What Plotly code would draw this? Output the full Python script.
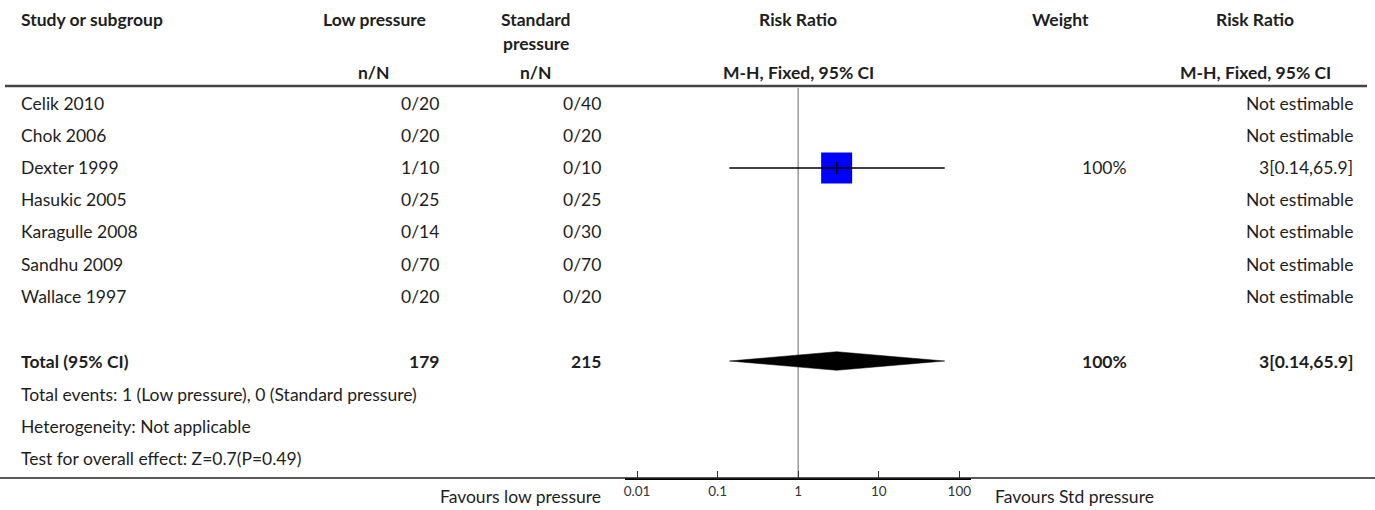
import plotly.graph_objects as go

W, H = 1375, 510
FONT = "Lato"

# ---------------- data ----------------
studies = ["Celik 2010", "Chok 2006", "Dexter 1999", "Hasukic 2005",
           "Karagulle 2008", "Sandhu 2009", "Wallace 1997"]
low_events = [0, 0, 1, 0, 0, 0, 0]
low_total = [20, 20, 10, 25, 14, 70, 20]
std_events = [0, 0, 0, 0, 0, 0, 0]
std_total = [40, 20, 10, 25, 30, 70, 20]
rr = [None, None, 3, None, None, None, None]
rr_lo = [None, None, 0.14, None, None, None, None]
rr_hi = [None, None, 65.9, None, None, None, None]
weight = [None, None, "100%", None, None, None, None]

total_low = 179
total_std = 215
total_rr, total_lo, total_hi = 3, 0.14, 65.9
total_weight = "100%"

footer_lines = ["Total events: 1 (Low pressure), 0 (Standard pressure)",
                "Heterogeneity: Not applicable",
                "Test for overall effect: Z=0.7(P=0.49)"]

tick_vals = [0.01, 0.1, 1, 10, 100]
tick_text = ["0.01", "0.1", "1", "10", "100"]
favours_left = "Favours low pressure"
favours_right = "Favours Std pressure"

# ---------------- layout helpers (pixel -> paper) ----------------
def px(x):
    return x / W

def py(y):
    return 1 - y / H

ROW0, ROWSTEP = 104, 32
def row_y(i):
    return ROW0 + i * ROWSTEP

AXIS_Y = 478
COL_STUDY = 19
COL_LOW_C, COL_LOW_R = 374, 441
COL_STD_C, COL_STD_R = 536, 603
COL_RR_C = 798
COL_W_H, COL_W_C = 1060, 1104
COL_RR2_C, COL_RR2_R = 1255, 1355

FS = 17.5
TXT = "#1e1e1e"
ann = []

def add(text, x, y, anchor="left", bold=False, size=FS, color=TXT):
    ann.append(dict(text=("<b>%s</b>" % text) if bold else text,
                    x=px(x), y=py(y), xref="paper", yref="paper",
                    xanchor=anchor, yanchor="middle", showarrow=False,
                    font=dict(family=FONT, size=size, color=color)))

# headers
add("Study or subgroup", COL_STUDY, 20, bold=True)
add("Low pressure", COL_LOW_C, 20, "center", bold=True)
add("Standard", COL_STD_C, 20, "center", bold=True)
add("pressure", COL_STD_C, 43, "center", bold=True)
add("Risk Ratio", COL_RR_C, 20, "center", bold=True)
add("Weight", COL_W_H, 20, "center", bold=True)
add("Risk Ratio", COL_RR2_C, 20, "center", bold=True)
add("n/N", COL_LOW_C, 73, "center", bold=True)
add("n/N", COL_STD_C, 73, "center", bold=True)
add("M-H, Fixed, 95% CI", COL_RR_C, 73, "center", bold=True)
add("M-H, Fixed, 95% CI", COL_RR2_C, 73, "center", bold=True)

# study rows
for i, s in enumerate(studies):
    y = row_y(i)
    add(s, COL_STUDY, y)
    add("%d/%d" % (low_events[i], low_total[i]), COL_LOW_R, y, "right")
    add("%d/%d" % (std_events[i], std_total[i]), COL_STD_R, y, "right")
    if rr[i] is None:
        add("Not estimable", COL_RR2_R, y, "right")
    else:
        add("%g[%g,%g]" % (rr[i], rr_lo[i], rr_hi[i]), COL_RR2_R, y, "right")
    if weight[i]:
        add(weight[i], COL_W_C, y, "center")

# total row
ty = row_y(len(studies) + 1) + 1
add("Total (95% CI)", COL_STUDY, ty, bold=True)
add(str(total_low), COL_LOW_R, ty, "right", bold=True)
add(str(total_std), COL_STD_R, ty, "right", bold=True)
add(total_weight, COL_W_C, ty, "center", bold=True)
add("%g[%g,%g]" % (total_rr, total_lo, total_hi), COL_RR2_R, ty, "right", bold=True)

for k, line in enumerate(footer_lines):
    add(line, COL_STUDY, row_y(len(studies) + 2 + k) + 2)

add(favours_left, 603, 496, "right")
add(favours_right, 993, 496, "left")

# ---------------- traces ----------------
fig = go.Figure()

for i in range(len(studies)):
    if rr[i] is None:
        continue
    y = row_y(i)
    fig.add_trace(go.Scatter(x=[rr[i]], y=[y], mode="markers",
                             marker=dict(symbol="square", size=31, color="#0000FF",
                                         line=dict(width=0)),
                             hoverinfo="skip", showlegend=False))
    fig.add_trace(go.Scatter(x=[rr_lo[i], rr_hi[i]], y=[y, y], mode="lines",
                             line=dict(color="black", width=1.3),
                             hoverinfo="skip", showlegend=False))
    fig.add_trace(go.Scatter(x=[rr[i]], y=[y], mode="markers",
                             marker=dict(symbol="line-ns", size=9,
                                         line=dict(color="black", width=1.5)),
                             hoverinfo="skip", showlegend=False))

half = 9.3
fig.add_trace(go.Scatter(x=[total_lo, total_rr, total_hi, total_rr, total_lo],
                         y=[ty, ty - half, ty, ty + half, ty],
                         mode="lines", fill="toself", fillcolor="black",
                         line=dict(color="black", width=0.5),
                         hoverinfo="skip", showlegend=False))

shapes = [
    # header rule
    dict(type="line", xref="paper", yref="paper", x0=px(5), x1=px(1367),
         y0=py(86), y1=py(86), line=dict(color="#444444", width=2.5)),
    # bottom rule
    dict(type="line", xref="paper", yref="paper", x0=px(0), x1=px(1375),
         y0=py(AXIS_Y), y1=py(AXIS_Y), line=dict(color="#222222", width=1.3)),
    # null line
    dict(type="line", xref="x", yref="paper", x0=1, x1=1,
         y0=py(AXIS_Y), y1=py(88), line=dict(color="#9a9a9a", width=1.5),
         layer="below"),
]

fig.update_layout(
    width=W, height=H,
    margin=dict(l=0, r=0, t=0, b=0),
    paper_bgcolor="white", plot_bgcolor="rgba(0,0,0,0)",
    annotations=ann, shapes=shapes, showlegend=False,
    xaxis=dict(type="log", range=[-2.15, 2.145],
               domain=[px(625), px(971)],
               tickvals=tick_vals, ticktext=tick_text,
               ticks="inside", ticklen=7, tickwidth=1, tickcolor="#333333",
               showline=True, linecolor="black", linewidth=2,
               showgrid=False, zeroline=False,
               tickfont=dict(family=FONT, size=13.5, color="#333333"),
               fixedrange=True),
    yaxis=dict(range=[AXIS_Y, 0], domain=[1 - AXIS_Y / H, 1],
               visible=False, showgrid=False, zeroline=False, fixedrange=True),
)

fig.write_html("out.html", config={"displayModeBar": False})
